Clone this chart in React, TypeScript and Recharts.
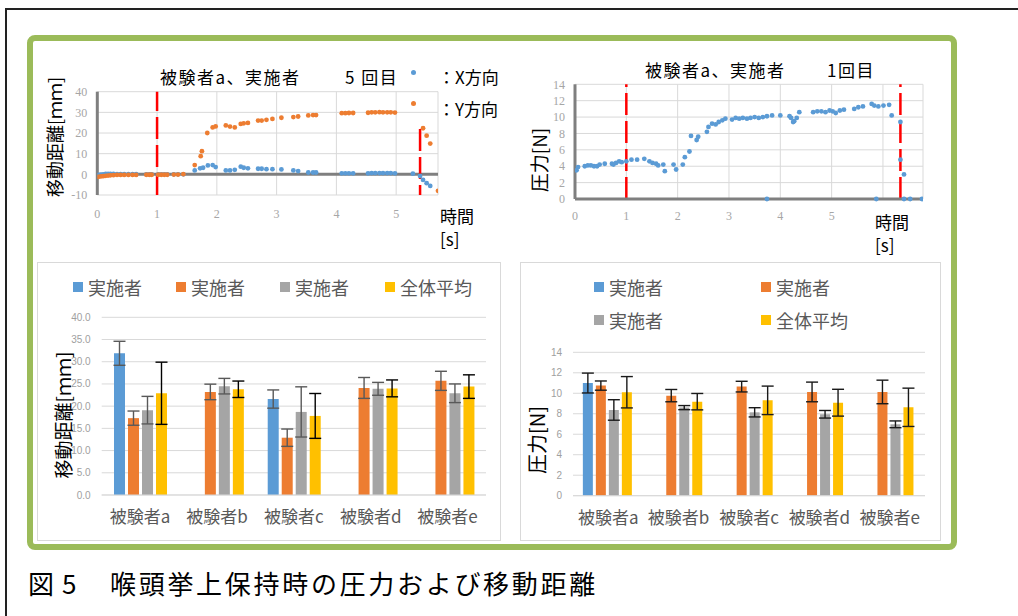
import React from "react";
import {
  ScatterChart,
  Scatter,
  XAxis,
  YAxis,
  CartesianGrid,
  ReferenceLine,
  BarChart,
  Bar,
  ErrorBar,
} from "recharts";

// --- top-left: displacement over time (subject a, 5th trial) ---
const xDirTime = [0.02, 0.06, 0.1, 0.14, 0.18, 0.22, 0.27, 0.33, 0.39, 0.45, 0.52, 0.59, 0.65, 0.82, 0.87, 0.91, 1.02, 1.07, 1.12, 1.17, 1.28, 1.35, 1.44, 1.63, 1.72, 1.77, 1.85, 1.93, 1.98, 2.15, 2.22, 2.3, 2.4, 2.45, 2.52, 2.69, 2.75, 2.83, 2.93, 3.08, 3.28, 3.36, 3.53, 3.61, 3.66, 4.09, 4.15, 4.21, 4.28, 4.53, 4.59, 4.65, 4.72, 4.78, 4.85, 4.91, 4.98, 5.28, 5.4, 5.45, 5.51, 5.57];
const xDirValue = [-0.3, -0.2, 0, 0.2, 0.2, 0.2, 0.2, 0.1, 0.1, 0.1, 0.1, 0.1, 0.1, 0, 0, 0, 0, 0, 0, 0, 0, 0, 0, 1.9, 2.9, 3.2, 4.3, 4.5, 3.5, 1.9, 1.9, 2.2, 3.7, 3.2, 2.9, 2.7, 2.7, 2.5, 2.5, 2.4, 1.9, 1.6, 0.9, 0.9, 0.9, 0.5, 0.5, 0.5, 0.5, 0.5, 0.6, 0.6, 0.6, 0.6, 0.6, 0.6, 0.5, 0.3, -0.8, -2.7, -4.3, -5.6];
const yDirTime = [0.02, 0.06, 0.1, 0.14, 0.18, 0.22, 0.27, 0.33, 0.39, 0.45, 0.52, 0.59, 0.65, 0.82, 0.87, 0.91, 1.02, 1.07, 1.12, 1.17, 1.28, 1.35, 1.44, 1.63, 1.73, 1.75, 1.84, 1.93, 1.98, 2.15, 2.22, 2.3, 2.4, 2.45, 2.52, 2.69, 2.75, 2.83, 2.93, 3.08, 3.28, 3.36, 3.53, 3.61, 3.66, 4.09, 4.15, 4.21, 4.28, 4.53, 4.59, 4.65, 4.72, 4.78, 4.85, 4.91, 4.98, 5.45, 5.51, 5.57, 5.7];
const yDirValue = [-1.2, -1.0, -0.9, -0.7, -0.6, -0.5, -0.4, -0.3, -0.3, -0.3, -0.3, -0.3, -0.3, -0.2, -0.2, -0.2, -0.2, -0.2, -0.2, -0.2, -0.1, -0.1, 0.1, 4.5, 8.8, 11.2, 20.0, 22.7, 23.2, 23.7, 23.1, 22.7, 24.4, 24.7, 24.9, 26.0, 26.0, 26.4, 26.8, 27.4, 27.7, 28.0, 28.5, 28.7, 28.7, 29.6, 29.6, 29.7, 29.7, 29.8, 30.0, 30.0, 30.1, 30.0, 30.0, 30.0, 29.9, 22.3, 18.7, 14.9, -8.0];
const dispTimeTicks = [0, 1, 2, 3, 4, 5];
const dispValueTicks = [-10, 0, 10, 20, 30, 40];
const dispMarkers = [1, 5.4];

// --- top-right: pressure over time (subject a, 1st trial) ---
const pTime = [0.03, 0.06, 0.19, 0.25, 0.31, 0.37, 0.43, 0.48, 0.58, 0.72, 0.75, 0.8, 0.86, 0.91, 1.0, 1.1, 1.21, 1.35, 1.45, 1.51, 1.58, 1.62, 1.72, 1.75, 1.92, 1.97, 2.1, 2.14, 2.23, 2.26, 2.37, 2.4, 2.57, 2.6, 2.67, 2.74, 2.8, 2.87, 2.93, 3.06, 3.13, 3.2, 3.27, 3.35, 3.42, 3.5, 3.58, 3.66, 3.74, 3.84, 4.0, 4.18, 4.21, 4.25, 4.27, 4.32, 4.37, 4.64, 4.72, 4.8, 4.88, 4.96, 5.02, 5.08, 5.16, 5.24, 5.44, 5.52, 5.61, 5.78, 5.83, 5.91, 6.01, 6.12, 6.17, 6.34, 6.34, 6.41, 3.74, 5.87, 6.41, 6.53, 6.76];
const pValue = [3.5, 3.9, 4.0, 4.1, 4.1, 4.0, 4.0, 4.2, 4.3, 4.3, 4.2, 4.4, 4.6, 4.5, 4.6, 4.8, 4.8, 4.9, 4.6, 4.4, 4.3, 4.1, 4.2, 3.4, 4.2, 3.6, 4.2, 5.1, 5.8, 7.7, 7.2, 7.6, 8.2, 8.8, 9.2, 9.1, 9.4, 9.6, 9.8, 9.7, 9.9, 9.8, 9.9, 9.8, 9.9, 10.0, 9.9, 10.0, 10.1, 10.2, 10.2, 10.1, 9.9, 9.4, 9.5, 9.9, 10.6, 10.6, 10.7, 10.7, 10.6, 10.8, 10.7, 10.5, 10.8, 10.9, 11.0, 11.2, 11.3, 11.6, 11.4, 11.3, 11.4, 11.5, 10.2, 9.4, 4.8, 3.0, 0, 0, 0, 0, 0];
const pTimeTicks = [0, 1, 2, 3, 4, 5, 6];
const pValueTicks = [0, 2, 4, 6, 8, 10, 12, 14];
const pMarkers = [1, 6.34];

// --- bottom bars ---
const subjects = ["被験者a", "被験者b", "被験者c", "被験者d", "被験者e"];
const seriesNames = ["実施者", "実施者", "実施者", "全体平均"];
const seriesColors = ["#5B9BD5", "#ED7D31", "#A5A5A5", "#FFC000"];

const dispBlue = [31.9, null, 21.6, null, null];
const dispBlueSd = [2.7, null, 2.05, null, null];
const dispOrange = [17.3, 23.2, 12.9, 24.1, 25.7];
const dispOrangeSd = [1.6, 1.75, 1.95, 2.35, 2.15];
const dispGray = [19.1, 24.5, 18.7, 23.9, 22.9];
const dispGraySd = [3.1, 1.75, 5.65, 1.45, 2.1];
const dispYellow = [22.9, 23.8, 17.8, 24.0, 24.4];
const dispYellowSd = [7.0, 1.85, 5.05, 1.9, 2.65];
const dispBarTicks = [0, 5, 10, 15, 20, 25, 30, 35, 40];

const pressBlue = [11.0, null, null, null, null];
const pressBlueSd = [0.97, null, null, null, null];
const pressOrange = [10.75, 9.77, 10.65, 10.13, 10.13];
const pressOrangeSd = [0.45, 0.6, 0.52, 0.96, 1.15];
const pressGray = [8.37, 8.6, 8.14, 7.95, 6.97];
const pressGraySd = [1.0, 0.2, 0.45, 0.37, 0.33];
const pressYellow = [10.1, 9.18, 9.31, 9.08, 8.63];
const pressYellowSd = [1.53, 0.8, 1.39, 1.31, 1.87];
const pressBarTicks = [0, 2, 4, 6, 8, 10, 12, 14];

const JP = '"Noto Sans CJK JP", "Noto Sans", sans-serif';
const serifTick = { fontSize: 12, fill: "#a6a6a6", fontFamily: '"Liberation Serif", serif' };

const toPoints = (ts: number[], vs: number[]) => ts.map((t, i) => ({ t, v: vs[i] }));

const dot = (color: string) => (p: any) => <circle cx={p.cx} cy={p.cy} r={2.4} fill={color} />;

function Txt({ x, y, size, color = "#000", children, rotate, style }: any) {
  const tf = rotate ? "translate(-50%,-50%) rotate(-90deg)" : "translateY(-50%)";
  return (
    <div
      style={{
        position: "absolute",
        left: x,
        top: y,
        fontSize: size,
        color,
        fontFamily: JP,
        lineHeight: 1,
        whiteSpace: "nowrap",
        transform: tf,
        ...style,
      }}
    >
      {children}
    </div>
  );
}

function BarLegend({ items }: { items: { x: number; y: number; i: number }[] }) {
  return (
    <>
      {items.map((it) => (
        <div key={it.i}>
          <div
            style={{
              position: "absolute",
              left: it.x,
              top: it.y - 5,
              width: 10,
              height: 10,
              background: seriesColors[it.i],
            }}
          />
          <Txt x={it.x + 15} y={it.y} size={18} color="#595959">
            {seriesNames[it.i]}
          </Txt>
        </div>
      ))}
    </>
  );
}

function DisplacementScatter() {
  return (
    <ScatterChart width={400} height={170} margin={{ top: 31.7, right: 2, bottom: 10, left: 17.3 }}>
      <CartesianGrid stroke="#d9d9d9" />
      <XAxis
        type="number"
        dataKey="t"
        domain={[0, 5.7]}
        ticks={dispTimeTicks}
        interval={0}
        axisLine={false}
        tickLine={false}
        tickMargin={8}
        height={25}
        tick={serifTick}
        allowDataOverflow
      />
      <YAxis
        type="number"
        dataKey="v"
        domain={[-10, 40]}
        ticks={dispValueTicks}
        interval={0}
        axisLine={{ stroke: "#7f7f7f", strokeWidth: 3 }}
        tickLine={false}
        tickMargin={4}
        width={40}
        tick={serifTick}
      />
      <ReferenceLine y={0} stroke="#7f7f7f" strokeWidth={3} />
      <ReferenceLine x={dispMarkers[0]} stroke="#ff0000" strokeWidth={2.5} strokeDasharray="22 6" />
      <ReferenceLine
        segment={[
          { x: dispMarkers[1], y: 22 },
          { x: dispMarkers[1], y: -10 },
        ]}
        stroke="#ff0000"
        strokeWidth={2.5}
        strokeDasharray="22 6"
      />
      <Scatter data={toPoints(xDirTime, xDirValue)} fill="#5B9BD5" shape={dot("#5B9BD5")} isAnimationActive={false} />
      <Scatter data={toPoints(yDirTime, yDirValue)} fill="#ED7D31" shape={dot("#ED7D31")} isAnimationActive={false} />
    </ScatterChart>
  );
}

function PressureScatter() {
  return (
    <ScatterChart width={410} height={180} margin={{ top: 29.3, right: 7, bottom: 11, left: 20 }}>
      <CartesianGrid stroke="#d9d9d9" />
      <XAxis
        type="number"
        dataKey="t"
        domain={[0, 6.78]}
        ticks={pTimeTicks}
        interval={0}
        tickFormatter={(v: number) => (v === 6 ? "" : String(v))}
        axisLine={{ stroke: "#7f7f7f", strokeWidth: 3 }}
        tickLine={false}
        tickMargin={6}
        height={25}
        tick={serifTick}
        allowDataOverflow
      />
      <YAxis
        type="number"
        dataKey="v"
        domain={[0, 14]}
        ticks={pValueTicks}
        interval={0}
        axisLine={{ stroke: "#7f7f7f", strokeWidth: 3 }}
        tickLine={false}
        tickMargin={4}
        width={35}
        tick={serifTick}
      />
      {pMarkers.map((m) => (
        <ReferenceLine key={m} x={m} stroke="#ff0000" strokeWidth={2.5} strokeDasharray="22 6" />
      ))}
      <Scatter data={toPoints(pTime, pValue)} fill="#5B9BD5" shape={dot("#5B9BD5")} isAnimationActive={false} />
    </ScatterChart>
  );
}

function GroupBars({ data, ticks, max, margin, gap, errColor, width }: any) {
  const keys = ["blue", "orange", "gray", "yellow"];
  return (
    <BarChart
      width={width}
      height={278}
      data={data}
      margin={margin}
      barCategoryGap={gap}
      barGap={3}
    >
      <CartesianGrid stroke="#d9d9d9" vertical={false} />
      <XAxis
        dataKey="name"
        axisLine={{ stroke: "#d9d9d9" }}
        tickLine={false}
        tickMargin={10}
        height={40}
        interval={0}
        tick={{ fontSize: 17, fill: "#595959", fontFamily: JP }}
      />
      <YAxis
        domain={[0, max]}
        ticks={ticks}
        interval={0}
        tickFormatter={(v: number) => (max === 40 ? v.toFixed(1) : String(v))}
        axisLine={false}
        tickLine={false}
        tickMargin={5}
        width={30}
        tick={{ fontSize: 10, fill: "#a0a0a0", fontFamily: '"Liberation Sans", sans-serif' }}
      />
      {keys.map((k, i) => (
        <Bar key={k} dataKey={k} fill={seriesColors[i]} isAnimationActive={false}>
          <ErrorBar
            dataKey={k + "Sd"}
            direction="y"
            width={6}
            strokeWidth={1.4}
            stroke={errColor[i]}
          />
        </Bar>
      ))}
    </BarChart>
  );
}

export default function App() {
  const dispData = subjects.map((name, i) => ({
    name,
    blue: dispBlue[i],
    blueSd: dispBlueSd[i],
    orange: dispOrange[i],
    orangeSd: dispOrangeSd[i],
    gray: dispGray[i],
    graySd: dispGraySd[i],
    yellow: dispYellow[i],
    yellowSd: dispYellowSd[i],
  }));
  const pressData = subjects.map((name, i) => ({
    name,
    blue: pressBlue[i],
    blueSd: pressBlueSd[i],
    orange: pressOrange[i],
    orangeSd: pressOrangeSd[i],
    gray: pressGray[i],
    graySd: pressGraySd[i],
    yellow: pressYellow[i],
    yellowSd: pressYellowSd[i],
  }));

  return (
    <div
      style={{
        position: "absolute",
        left: 0,
        top: 0,
        width: 1018,
        height: 616,
        background: "#fff",
        overflow: "hidden",
        fontFamily: JP,
      }}
    >
      {/* outer frame */}
      <div style={{ position: "absolute", left: 5, top: 8, width: 1013, height: 2, background: "#222" }} />
      <div style={{ position: "absolute", left: 5, top: 8, width: 2, height: 608, background: "#222" }} />

      {/* green panel */}
      <div
        style={{
          position: "absolute",
          left: 27,
          top: 35,
          width: 930,
          height: 515,
          border: "6.5px solid #9BBB59",
          borderRadius: 8,
          boxSizing: "border-box",
        }}
      />

      {/* top-left scatter */}
      <div style={{ position: "absolute", left: 40, top: 60 }}>
        <DisplacementScatter />
      </div>
      <Txt x={160} y={76} size={17} style={{ letterSpacing: 1.5 }}>被験者a、実施者</Txt>
      <Txt x={345} y={76} size={17} style={{ letterSpacing: 1.5 }}>5 回目</Txt>
      <div style={{ position: "absolute", left: 411, top: 70, width: 5, height: 5, borderRadius: 3, background: "#5B9BD5" }} />
      <div style={{ position: "absolute", left: 411, top: 101, width: 5, height: 5, borderRadius: 3, background: "#ED7D31" }} />
      <Txt x={438} y={76} size={17}>：X方向</Txt>
      <Txt x={438} y={108} size={17}>：Y方向</Txt>
      <Txt x={54} y={137} size={18} rotate>移動距離[ｍｍ]</Txt>
      <div style={{ position: "absolute", left: 440, top: 204, fontSize: 17, lineHeight: "23px", fontFamily: JP }}>
        時間
        <br />
        [s]
      </div>

      {/* top-right scatter */}
      <div style={{ position: "absolute", left: 520, top: 55 }}>
        <PressureScatter />
      </div>
      <Txt x={645} y={69} size={17} style={{ letterSpacing: 1.5 }}>被験者a、実施者</Txt>
      <Txt x={827} y={69} size={17} style={{ letterSpacing: 1.5 }}>1回目</Txt>
      <Txt x={538} y={160} size={19} rotate>圧力[N]</Txt>
      <div style={{ position: "absolute", left: 875, top: 210, fontSize: 17, lineHeight: "23px", fontFamily: JP }}>
        時間
        <br />
        [s]
      </div>

      {/* bottom-left bars */}
      <div
        style={{
          position: "absolute",
          left: 37,
          top: 262,
          width: 464,
          height: 279,
          border: "1px solid #d9d9d9",
          boxSizing: "border-box",
        }}
      />
      <div style={{ position: "absolute", left: 37, top: 262 }}>
        <GroupBars
          data={dispData}
          ticks={dispBarTicks}
          max={40}
          width={464}
          gap="16%"
          margin={{ top: 55.3, right: 15, bottom: 5, left: 34.7 }}
          errColor={["#595959", "#595959", "#595959", "#000000"]}
        />
      </div>
      <BarLegend
        items={[
          { x: 73, y: 287, i: 0 },
          { x: 176, y: 287, i: 1 },
          { x: 280, y: 287, i: 2 },
          { x: 385, y: 287, i: 3 },
        ]}
      />
      <Txt x={62} y={415} size={19} rotate>移動距離[ｍｍ]</Txt>

      {/* bottom-right bars */}
      <div
        style={{
          position: "absolute",
          left: 520,
          top: 262,
          width: 421,
          height: 279,
          border: "1px solid #d9d9d9",
          boxSizing: "border-box",
        }}
      />
      <div style={{ position: "absolute", left: 520, top: 262 }}>
        <GroupBars
          data={pressData}
          ticks={pressBarTicks}
          max={14}
          width={420}
          gap="14%"
          margin={{ top: 90.3, right: 15, bottom: 4.3, left: 23 }}
          errColor={["#1a1a1a", "#1a1a1a", "#1a1a1a", "#1a1a1a"]}
        />
      </div>
      <BarLegend
        items={[
          { x: 594, y: 287, i: 0 },
          { x: 761, y: 287, i: 1 },
          { x: 594, y: 320, i: 2 },
          { x: 761, y: 320, i: 3 },
        ]}
      />
      <Txt x={537} y={440} size={20} rotate>圧力[N]</Txt>

      {/* caption */}
      <Txt x={28} y={583} size={26}>図</Txt>
      <Txt x={62} y={583} size={26}>5</Txt>
      <Txt x={110} y={583} size={26} style={{ letterSpacing: 2.7 }}>喉頭挙上保持時の圧力および移動距離</Txt>
    </div>
  );
}
